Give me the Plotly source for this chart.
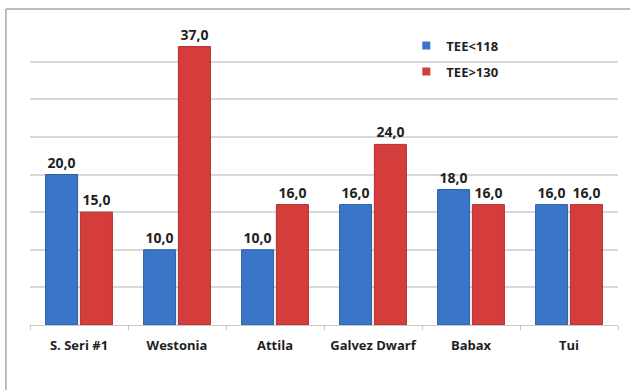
import plotly.graph_objects as go

# Data
categories = ["S. Seri #1", "Westonia", "Attila", "Galvez Dwarf", "Babax", "Tui"]
tee_118 = [20.0, 10.0, 10.0, 16.0, 18.0, 16.0]
tee_130 = [15.0, 37.0, 16.0, 24.0, 16.0, 16.0]
series_names = ["TEE<118", "TEE>130"]

BLUE = "#3a76c8"
BLUE_EDGE = "#2c5fa6"
RED = "#d43d3b"
RED_EDGE = "#b22f2d"
TEXT = "#1f1f1f"
FONT = "Open Sans"

fig = go.Figure()

for name, vals, fill, edge in [
    (series_names[0], tee_118, BLUE, BLUE_EDGE),
    (series_names[1], tee_130, RED, RED_EDGE),
]:
    fig.add_trace(go.Bar(
        x=categories,
        y=vals,
        name=name,
        showlegend=False,
        marker=dict(color=fill, line=dict(color=edge, width=1)),
        texttemplate="%{y:.1f}",
        textposition="outside",
        textfont=dict(family=FONT, size=14, color=TEXT, weight="bold"),
        cliponaxis=False,
    ))

# Small square legend keys
for i, (name, fill) in enumerate(zip(series_names, [BLUE, RED])):
    fig.add_trace(go.Scatter(
        x=[None], y=[None],
        mode="markers",
        name=name,
        legendgroup=f"g{i}",
        marker=dict(symbol="square", size=8, color=fill),
        showlegend=True,
    ))

FRAME = dict(color="#a6a6a6", width=1.5)

fig.update_layout(
    width=630,
    height=390,
    margin=dict(l=30, r=12, t=24, b=65),
    paper_bgcolor="white",
    plot_bgcolor="white",
    separators=", ",
    barmode="group",
    bargap=0.29,
    bargroupgap=0.08,
    font=dict(family=FONT, color=TEXT),
    legend=dict(
        x=0.64, y=0.978,
        xanchor="left", yanchor="top",
        bgcolor="rgba(0,0,0,0)",
        font=dict(family=FONT, size=13, color=TEXT, weight="bold"),
        tracegroupgap=6,
        itemwidth=30,
    ),
    xaxis=dict(
        showline=True,
        linecolor="#c8c8c8",
        linewidth=1,
        ticks="outside",
        tickson="boundaries",
        ticklen=4,
        tickcolor="#c8c8c8",
        showgrid=False,
        tickfont=dict(family=FONT, size=13, color=TEXT, weight="bold"),
        ticklabelstandoff=8,
    ),
    yaxis=dict(
        range=[0, 40],
        dtick=5,
        showticklabels=False,
        showgrid=True,
        gridcolor="#d9d9d9",
        gridwidth=1.5,
        zeroline=False,
        fixedrange=True,
    ),
    shapes=[
        # outer chart frame: top and left edges
        dict(type="line", xref="paper", yref="paper",
             x0=-0.041, x1=1.05, y0=1.05, y1=1.05, line=FRAME, layer="below"),
        dict(type="line", xref="paper", yref="paper",
             x0=-0.041, x1=-0.041, y0=-0.25, y1=1.05, line=FRAME, layer="below"),
    ],
)

fig.write_html("out.html")
